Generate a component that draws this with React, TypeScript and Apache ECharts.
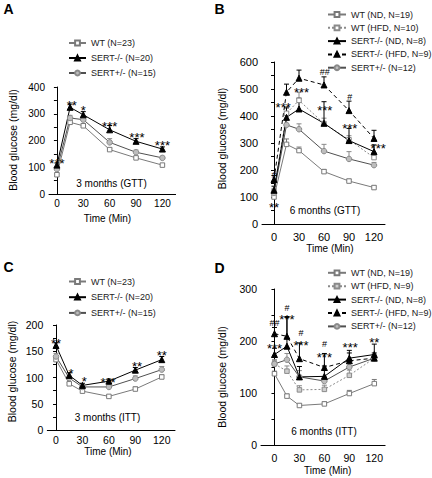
import React, { useEffect, useRef } from 'react';
import * as echarts from 'echarts';

const FONT = '"Liberation Sans", Arial, Helvetica, sans-serif';

// ---------- shared ----------
const timePoints = [0, 15, 30, 60, 90, 120];
const xTickValues = [0, 30, 60, 90, 120];

// ---------- Panel A: 3 months (GTT) ----------
const aNames = ['WT (N=23)', 'SERT-/- (N=20)', 'SERT+/- (N=15)'];
const aWT = [72, 268, 255, 166, 135, 108];
const aKO = [108, 324, 296, 240, 197, 168];
const aHET = [93, 284, 278, 193, 156, 135];
const aWTErr = [6, 8, 8, 6, 5, 4];
const aKOErr = [8, 12, 12, 16, 10, 8];
const aHETErr = [6, 10, 10, 14, 8, 6];
const aMarks = ['***', '**', '*', '***', '***', '***'];
const aMarkT = [0, 17, 30, 60, 91, 120];
const aMarkV = [127, 342, 322, 265, 222, 192];
const aYTicks = [0, 400, 100];

// ---------- Panel B: 6 months (GTT) ----------
const bNames = ['WT (ND, N=19)', 'WT (HFD, N=10)', 'SERT-/- (ND, N=8)', 'SERT-/- (HFD, N=9)', 'SERT+/- (N=12)'];
const bWTND = [100, 295, 272, 194, 159, 135];
const bWTHFD = [120, 410, 458, 372, 312, 246];
const bKOND = [125, 395, 426, 373, 309, 268];
const bKOHFD = [165, 488, 540, 515, 420, 317];
const bHET = [115, 367, 351, 270, 241, 218];
const bWTNDErr = [8, 20, 13, 8, 7, 6];
const bWTHFDErr = [12, 25, 30, 20, 15, 18];
const bKONDErr = [15, 35, 40, 80, 45, 25];
const bKOHFDErr = [15, 30, 30, 30, 35, 30];
const bHETErr = [10, 20, 20, 25, 27, 10];
const bMarks = ['#', '**', '***', '***', '##', '***', '#', '***', '***'];
const bMarkT = [0, 0, 11, 33, 61, 61, 91, 91, 125];
const bMarkV = [180, 74, 443, 500, 562, 432, 469, 364, 292];
const bYTicks = [0, 600, 100];

// ---------- Panel C: 3 months (ITT) ----------
const cNames = ['WT (N=23)', 'SERT-/- (N=20)', 'SERT+/- (N=15)'];
const cWT = [134, 88, 74, 64, 78, 101];
const cKO = [161, 104, 85, 93, 114, 134];
const cHET = [140, 99, 82, 82, 98, 115];
const cWTErr = [4, 3, 3, 2, 4, 4];
const cKOErr = [5, 5, 4, 4, 5, 6];
const cHETErr = [6, 4, 3, 3, 5, 6];
const cMarks = ['**', '*', '*', '***', '**', '**'];
const cMarkT = [0, 17, 32, 59, 92, 120];
const cMarkV = [170, 114, 99, 97, 126, 147];
const cYTicks = [0, 200, 50];

// ---------- Panel D: 6 months (ITT) ----------
const dNames = ['WT (ND, N=19)', 'WT (HFD, N=9)', 'SERT-/- (ND, N=8)', 'SERT-/- (HFD, N=9)', 'SERT+/- (N=12)'];
const dWTND = [137, 94, 76, 79, 99, 118];
const dWTHFD = [156, 142, 106, 107, 134, 167];
const dKOND = [174, 190, 131, 132, 167, 174];
const dKOHFD = [214, 209, 166, 149, 162, 167];
const dHET = [156, 164, 131, 123, 150, 167];
const dWTNDErr = [5, 4, 3, 4, 6, 8];
const dWTHFDErr = [6, 10, 8, 8, 10, 6];
const dKONDErr = [12, 55, 20, 20, 15, 20];
const dKOHFDErr = [12, 38, 30, 27, 15, 10];
const dHETErr = [8, 12, 12, 8, 10, 6];
const dMarks = ['##', '***', '#', '***', '#', '***', '#', '***', '***', '**'];
const dMarkT = [0, 0, 15, 15, 32, 32, 60, 60, 91, 120];
const dMarkV = [234, 192, 264, 247, 215, 198, 195, 175, 193, 204];
const dYTicks = [0, 300, 100];

// ---------- styles ----------
type Sty = { line: string; lineType: any; symbol: string; size: number; fill: string; border: string };
const sWT: Sty = { line: '#7a7a7a', lineType: 'solid', symbol: 'rect', size: 4.5, fill: '#ffffff', border: '#7a7a7a' };
const sWTHFD: Sty = { line: '#8a8a8a', lineType: [2, 2], symbol: 'rect', size: 4.5, fill: '#ffffff', border: '#8a8a8a' };
const sWTHFD2: Sty = { line: '#8a8a8a', lineType: [2, 2], symbol: 'rect', size: 4.5, fill: '#cfcfcf', border: '#8a8a8a' };
const sKO: Sty = { line: '#000000', lineType: 'solid', symbol: 'triangle', size: 6, fill: '#000000', border: '#000000' };
const sKOHFD: Sty = { line: '#000000', lineType: [4, 3], symbol: 'triangle', size: 6, fill: '#000000', border: '#000000' };
const sHET: Sty = { line: '#505050', lineType: 'solid', symbol: 'circle', size: 5.5, fill: '#bdbdbd', border: '#8a8a8a' };

type PanelGeom = { left: number; top: number; width: number; height: number; xmin: number; xmax: number };
const geoms: PanelGeom[] = [
  { left: 49, top: 87, width: 126.6, height: 107, xmin: -9, xmax: 135 },
  { left: 262, top: 62, width: 123, height: 162, xmin: -14.4, xmax: 133.2 },
  { left: 47.3, top: 325, width: 127.7, height: 105, xmin: -9.9, xmax: 135 },
  { left: 261, top: 289, width: 124.1, height: 156, xmin: -16.2, xmax: 133 },
];
const xLabelMargins = [4, 7, 4, 7];
const tickFont = [10, 11, 10.5, 10.5];

function lineSeries(idx: number, name: string, vals: number[], s: Sty) {
  return {
    type: 'line',
    name,
    xAxisIndex: idx,
    yAxisIndex: idx,
    data: timePoints.map((t, k) => [t, vals[k]]),
    symbol: s.symbol,
    symbolSize: s.size,
    showSymbol: true,
    lineStyle: { color: s.line, width: 1, type: s.lineType },
    itemStyle: { color: s.fill, borderColor: s.border, borderWidth: 1 },
    z: 3,
    silent: true,
  };
}

function errSeries(idx: number, vals: number[], errs: number[], color: string) {
  return {
    type: 'custom',
    xAxisIndex: idx,
    yAxisIndex: idx,
    data: timePoints.map((t, k) => [t, vals[k], errs[k]]),
    silent: true,
    z: 2,
    renderItem: (_p: any, api: any) => {
      const x = api.value(0);
      const y = api.value(1);
      const e = api.value(2);
      const p0 = api.coord([x, y]);
      const p1 = api.coord([x, y + e]);
      const st = { stroke: color, lineWidth: 1 };
      return {
        type: 'group',
        children: [
          { type: 'line', shape: { x1: p0[0], y1: p0[1], x2: p1[0], y2: p1[1] }, style: st },
          { type: 'line', shape: { x1: p1[0] - 2.5, y1: p1[1], x2: p1[0] + 2.5, y2: p1[1] }, style: st },
        ],
      };
    },
  };
}

function markSeries(idx: number, labels: string[], ts: number[], vs: number[]) {
  return {
    type: 'custom',
    xAxisIndex: idx,
    yAxisIndex: idx,
    data: ts.map((t, k) => [t, vs[k]]),
    silent: true,
    z: 5,
    renderItem: (p: any, api: any) => {
      const pt = api.coord([api.value(0), api.value(1)]);
      const txt = labels[p.dataIndex];
      const isStar = txt.indexOf('*') >= 0;
      const fs = isStar ? 13 : 9;
      return {
        type: 'text',
        x: pt[0],
        y: pt[1] + (isStar ? fs * 0.24 : 0),
        style: {
          text: txt,
          font: `${fs}px ${FONT}`,
          lineHeight: isStar ? 7 : 8,
          fill: '#000',
          align: 'center',
          verticalAlign: 'middle',
        },
      };
    },
  };
}

function makeAxes() {
  const ticks = [aYTicks, bYTicks, cYTicks, dYTicks];
  const xAxis = geoms.map((g, i) => ({
    type: 'value',
    gridIndex: i,
    min: g.xmin,
    max: g.xmax,
    axisLine: { show: true, lineStyle: { color: '#000', width: 1 } },
    axisTick: { show: false },
    splitLine: { show: false },
    axisLabel: {
      customValues: xTickValues,
      margin: xLabelMargins[i],
      color: '#000',
      fontFamily: FONT,
      fontSize: tickFont[i],
    },
  }));
  const yAxis = geoms.map((_g, i) => ({
    type: 'value',
    gridIndex: i,
    min: ticks[i][0],
    max: ticks[i][1],
    interval: ticks[i][2],
    axisLine: { show: true, lineStyle: { color: '#000', width: 1 } },
    axisTick: { show: true, length: 3, lineStyle: { color: '#000' } },
    minorTick: { show: true, splitNumber: 2, length: 3, lineStyle: { color: '#000' } },
    splitLine: { show: false },
    minorSplitLine: { show: false },
    axisLabel: { margin: 4, color: '#000', fontFamily: FONT, fontSize: tickFont[i] },
  }));
  return { xAxis, yAxis };
}

function legend(names: string[], left: number, top: number, iw: number, rowH: number, gap: number) {
  return {
    data: names,
    orient: 'vertical',
    left,
    top,
    itemWidth: iw,
    itemHeight: 6,
    itemGap: gap,
    padding: 0,
    selectedMode: false,
    textStyle: { fontFamily: FONT, fontSize: 9, color: '#222', lineHeight: rowH },
  };
}

function txt(x: number, y: number, text: string, size: number, opts: any = {}) {
  return {
    type: 'text',
    x,
    y,
    rotation: opts.rotation || 0,
    silent: true,
    style: {
      text,
      font: `${opts.bold ? 'bold ' : ''}${size}px ${FONT}`,
      fill: '#000',
      align: opts.align || 'center',
      verticalAlign: 'middle',
    },
  };
}

export default function App() {
  const ref = useRef<HTMLDivElement>(null);
  useEffect(() => {
    if (!ref.current) return;
    const chart = echarts.init(ref.current, undefined, { renderer: 'svg' });
    const { xAxis, yAxis } = makeAxes();
    const series: any[] = [
      // A
      errSeries(0, aWT, aWTErr, sWT.border),
      errSeries(0, aHET, aHETErr, sHET.border),
      errSeries(0, aKO, aKOErr, '#000'),
      lineSeries(0, aNames[0], aWT, sWT),
      lineSeries(0, aNames[2], aHET, sHET),
      lineSeries(0, aNames[1], aKO, sKO),
      markSeries(0, aMarks, aMarkT, aMarkV),
      // B
      errSeries(1, bWTND, bWTNDErr, sWT.border),
      errSeries(1, bWTHFD, bWTHFDErr, sWTHFD.border),
      errSeries(1, bHET, bHETErr, sHET.border),
      errSeries(1, bKOND, bKONDErr, '#000'),
      errSeries(1, bKOHFD, bKOHFDErr, '#000'),
      lineSeries(1, bNames[0], bWTND, sWT),
      lineSeries(1, bNames[1], bWTHFD, sWTHFD),
      lineSeries(1, bNames[4], bHET, sHET),
      lineSeries(1, bNames[2], bKOND, sKO),
      lineSeries(1, bNames[3], bKOHFD, sKOHFD),
      markSeries(1, bMarks, bMarkT, bMarkV),
      // C
      errSeries(2, cWT, cWTErr, sWT.border),
      errSeries(2, cHET, cHETErr, sHET.border),
      errSeries(2, cKO, cKOErr, '#000'),
      lineSeries(2, cNames[0], cWT, sWT),
      lineSeries(2, cNames[2], cHET, sHET),
      lineSeries(2, cNames[1], cKO, sKO),
      markSeries(2, cMarks, cMarkT, cMarkV),
      // D
      errSeries(3, dWTND, dWTNDErr, sWT.border),
      errSeries(3, dWTHFD, dWTHFDErr, sWTHFD2.border),
      errSeries(3, dHET, dHETErr, sHET.border),
      errSeries(3, dKOND, dKONDErr, '#000'),
      errSeries(3, dKOHFD, dKOHFDErr, '#000'),
      lineSeries(3, dNames[0], dWTND, sWT),
      lineSeries(3, dNames[1], dWTHFD, sWTHFD2),
      lineSeries(3, dNames[4], dHET, sHET),
      lineSeries(3, dNames[2], dKOND, sKO),
      lineSeries(3, dNames[3], dKOHFD, sKOHFD),
      markSeries(3, dMarks, dMarkT, dMarkV),
    ];
    const option: any = {
      animation: false,
      backgroundColor: '#ffffff',
      textStyle: { fontFamily: FONT },
      grid: geoms.map((g) => ({ left: g.left, top: g.top, width: g.width, height: g.height, containLabel: false })),
      xAxis,
      yAxis,
      legend: [
        legend(aNames, 68, 38.5, 17, 9, 6),
        legend(bNames, 327, 10, 18, 8, 4.3),
        legend(cNames, 68, 277, 17, 9, 6.7),
        legend(dNames, 327, 268.3, 18, 8, 4.4),
      ],
      graphic: [
        txt(8.5, 9, 'A', 14, { bold: true }),
        txt(219.5, 9, 'B', 14, { bold: true }),
        txt(8.5, 267, 'C', 14, { bold: true }),
        txt(219.5, 267.5, 'D', 14, { bold: true }),
        txt(111.5, 183, '3 months (GTT)', 10),
        txt(325, 210.7, '6 months (GTT)', 10),
        txt(107.5, 417, '3 months (ITT)', 10),
        txt(324, 431, '6 months (ITT)', 10),
        txt(107.5, 218, 'Time (Min)', 10),
        txt(330, 248.3, 'Time (Min)', 10),
        txt(108, 451.3, 'Time (Min)', 10),
        txt(327.7, 470.7, 'Time (Min)', 10),
        txt(12.5, 140, 'Blood glucose (mg/dl)', 10.5, { rotation: Math.PI / 2 }),
        txt(222, 138.5, 'Blood glucose (mg/dl)', 10.5, { rotation: Math.PI / 2 }),
        txt(11.7, 371.5, 'Blood glucose (mg/dl)', 10.5, { rotation: Math.PI / 2 }),
        txt(222, 377, 'Blood glucose (mg/dl)', 10.5, { rotation: Math.PI / 2 }),
      ],
      series,
    };
    chart.setOption(option);
    return () => chart.dispose();
  }, []);
  return (
    <div
      ref={ref}
      style={{ position: 'fixed', left: 0, top: 0, width: 432, height: 478, background: '#fff' }}
    />
  );
}
